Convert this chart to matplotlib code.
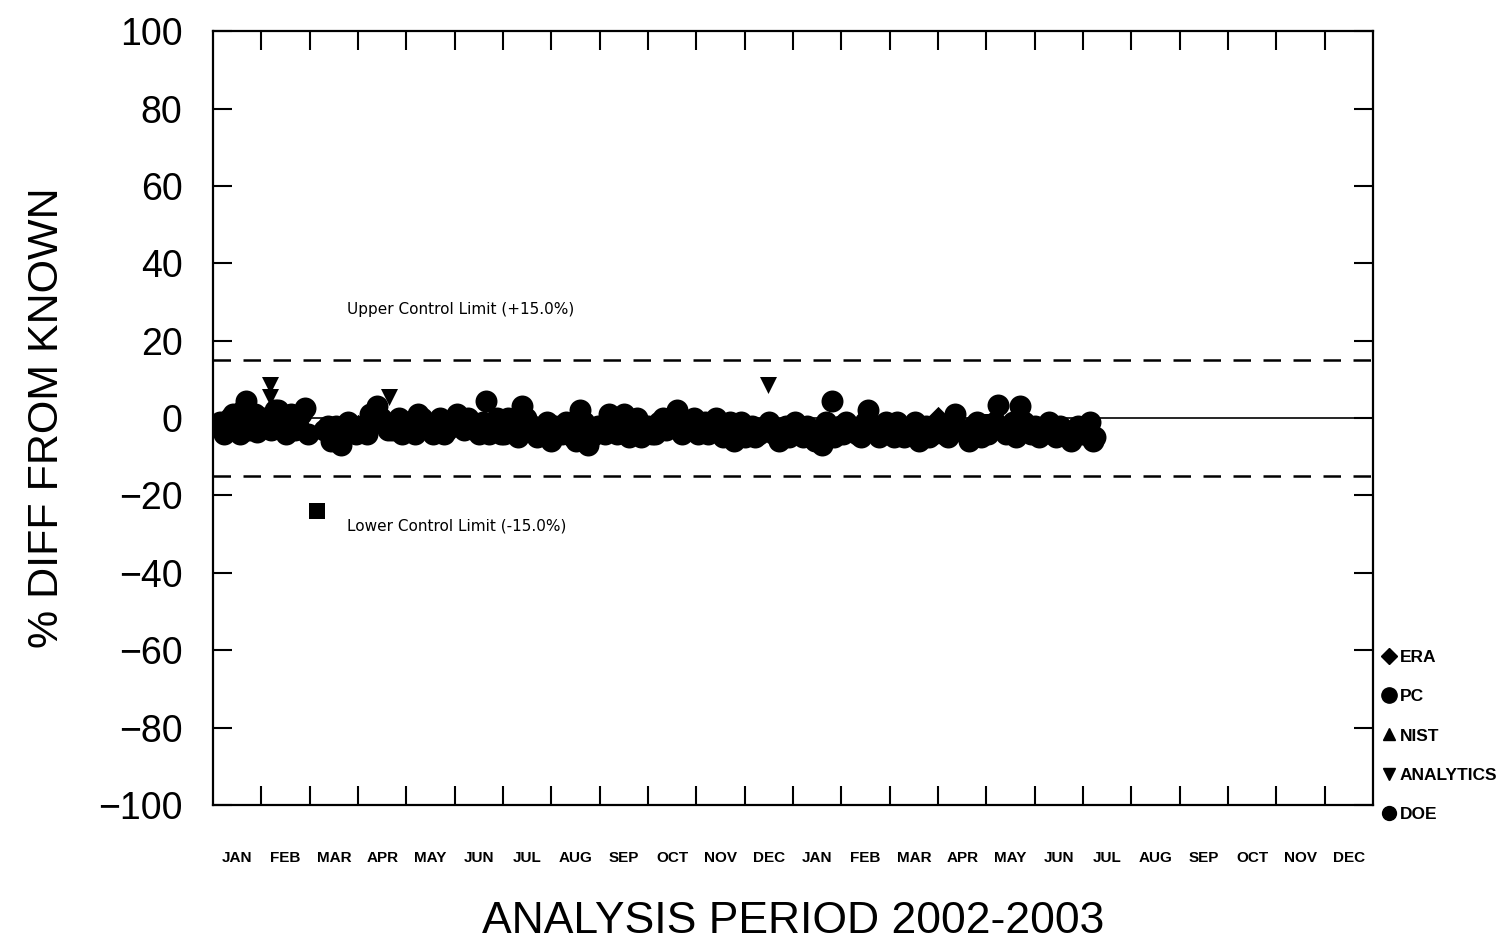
import matplotlib
matplotlib.use('Agg')
import matplotlib.pyplot as plt
from matplotlib.lines import Line2D

# months since Jan 2002 (0 = start of Jan 2002)
month_labels = ['JAN', 'FEB', 'MAR', 'APR', 'MAY', 'JUN', 'JUL', 'AUG', 'SEP', 'OCT', 'NOV', 'DEC'] * 2

pc_x = [0.15, 0.3, 0.42, 0.55, 0.68, 0.8, 0.92,
        1.05, 1.2, 1.35, 1.5, 1.62, 1.75, 1.9,
        2.3, 2.45, 2.55, 2.65, 2.8, 2.95,
        3.1, 3.25, 3.4, 3.55, 3.7, 3.85, 3.95,
        4.1, 4.25, 4.4, 4.55, 4.7, 4.85,
        5.05, 5.2, 5.35, 5.5, 5.65, 5.8, 5.95,
        6.1, 6.25, 6.4, 6.55, 6.7, 6.85,
        7.0, 7.15, 7.3, 7.45, 7.6, 7.75, 7.9,
        8.05, 8.2, 8.35, 8.5, 8.7, 8.85,
        9.0, 9.15, 9.3, 9.45, 9.6, 9.8, 9.95,
        10.1, 10.25, 10.4, 10.55, 10.7, 10.85,
        11.0, 11.15, 11.3, 11.5, 11.7, 11.85,
        12.05, 12.2, 12.35, 12.45, 12.6, 12.8, 12.9,
        13.1, 13.25, 13.4, 13.55, 13.7, 13.85,
        14.0, 14.15, 14.3, 14.45, 14.6, 14.75, 14.9,
        15.05, 15.2, 15.35, 15.5, 15.65, 15.8, 15.95,
        16.1, 16.25, 16.4, 16.55, 16.7, 16.85,
        17.0, 17.15, 17.3, 17.45, 17.6, 17.75, 17.9,
        18.05, 18.15, 18.25,
        # second pass of samples in each month
        0.22, 0.36, 0.5, 0.62, 0.75, 0.87, 0.97,
        1.12, 1.28, 1.42, 1.56, 1.7, 1.83, 1.97,
        2.38, 2.5, 2.6, 2.72, 2.88,
        3.18, 3.32, 3.47, 3.62, 3.78, 3.9,
        4.03, 4.18, 4.33, 4.48, 4.62, 4.78, 4.92,
        5.12, 5.28, 5.42, 5.58, 5.72, 5.88,
        6.02, 6.18, 6.32, 6.48, 6.62, 6.78, 6.92,
        7.08, 7.22, 7.38, 7.52, 7.68, 7.82, 7.97,
        8.12, 8.28, 8.42, 8.6, 8.78, 8.93,
        9.08, 9.22, 9.38, 9.52, 9.7, 9.88,
        10.03, 10.18, 10.32, 10.48, 10.62, 10.78, 10.93,
        11.08, 11.22, 11.4, 11.6, 11.78, 11.92,
        12.12, 12.28, 12.4, 12.52, 12.68, 12.85, 12.97,
        13.03, 13.18, 13.32, 13.48, 13.62, 13.78, 13.93,
        14.08, 14.22, 14.38, 14.52, 14.68, 14.82, 14.97,
        15.12, 15.28, 15.42, 15.58, 15.72, 15.88,
        16.03, 16.18, 16.32, 16.48, 16.62, 16.78, 16.93,
        17.08, 17.22, 17.38, 17.52, 17.68, 17.82, 17.97,
        18.1, 18.2]
pc_y = [-1, -3, 1, -4, 4.5, -2, -3.5,
        0, -3, 2, -4, 1, -2, 2.5,
        -3, -6, -2, -7, -1, -4,
        -2, 1, 3, -1, -3, 0, -2,
        -3, 1, -2, -4, 0, -3,
        1, -3, -1, -4, 4.5, -2, -4,
        0, -3, 3, -2, -5, -3,
        -6, -3, -1, -5, 2, -7, -4,
        -2, 1, -4, 1, -3, -5,
        -2, -4, 0, -1, 2, -3, 0,
        -2, -4, 0, -5, -1, -3,
        -5, -2, -4, -1, -6, -2,
        -1, -5, -3, -6, -7, 4.5, -3,
        -1, -3, -5, 2, -2, -4,
        -3, -1, -5, -3, -6, -2, -4,
        -2, -5, 1, -3, -6, -1, -4,
        -2, 3.5, -4, -1, 3, -3,
        -2, -4, -1, -5, -3, -6, -2,
        -4, -1, -5,
        -4, 0, -2, 2, -3, 1, -1,
        -1, 2, -2, 0, -3, 1, -4,
        -2, -4, -5, -3, -2,
        -4, -1, 0, -3, -1, -4,
        -1, -4, 0, -3, -2, -4, -1,
        -2, 0, -3, -1, -4, 0,
        -4, -1, -5, 0, -2, -4, -1,
        -2, -4, -3, -6, -1, -5, -2,
        -4, -1, -2, -5, 0, -2,
        -4, -1, -3, 0, -4, -2,
        -4, -1, -3, -2, -4, -6, -1,
        -3, -5, -3, -4, -4, -5,
        -4, -2, -5, -4, -1, -5, -2,
        -4, -2, -4, -1, -3, -5, -1,
        -5, -2, -4, -1, -4, -5, -2,
        -4, -1, -3, -4, -2, -5,
        -4, -1, -3, -2, -5, -1, -4,
        -5, -3, -4, -2, -5, -3, -4,
        -3, -6]

era_x = [0.5, 3.0, 6.0, 9.5, 12.0, 15.0, 17.5]
era_y = [-1, -2, -1, -2, -3, 0, -4]

nist_x = [7.3, 13.0]
nist_y = [-2, -1]

analytics_x = [1.17, 1.17, 3.64, 11.48]
analytics_y = [8.5, 5.5, 5.5, 8.5]

doe_x = [2.15, 5.5, 10.0, 16.0]
doe_y = [-24, -2, -3, -1]

big_font = ['Liberation Sans', 'DejaVu Sans']
small_font = ['Liberation Sans Narrow', 'DejaVu Sans Condensed', 'Liberation Sans', 'DejaVu Sans']

fig = plt.figure(figsize=(14.98, 9.43), dpi=100)
ax = fig.add_axes([0.1422, 0.1463, 0.7744, 0.8207])

# reference lines
ax.plot([0, 24], [0, 0], color='black', lw=1.2, zorder=1)
ax.plot([0, 24], [15, 15], color='black', lw=1.8, ls=(0, (7, 5)), zorder=1)
ax.plot([0, 24], [-15, -15], color='black', lw=1.8, ls=(0, (7, 5)), zorder=1)

ax.scatter(pc_x, pc_y, marker='o', s=250, color='black', lw=0, zorder=3)
ax.scatter(era_x, era_y, marker='D', s=140, color='black', lw=0, zorder=3)
ax.scatter(nist_x, nist_y, marker='^', s=150, color='black', lw=0, zorder=3)
ax.scatter(analytics_x, analytics_y, marker='v', s=150, color='black', lw=0, zorder=3)
ax.scatter(doe_x, doe_y, marker='s', s=120, color='black', lw=0, zorder=3)

ax.text(2.77, 28, 'Upper Control Limit (+15.0%)', fontsize=11, va='center', ha='left')
ax.text(2.77, -28, 'Lower Control Limit (-15.0%)', fontsize=11, va='center', ha='left')

ax.set_xlim(0, 24)
ax.set_ylim(-100, 100)
ax.set_yticks(range(-100, 101, 20))
ax.set_yticklabels([str(v).replace('-', '\u2212') for v in range(-100, 101, 20)],
                   fontsize=27, family=big_font)
ax.set_xticks(range(1, 24))
ax.set_xticklabels([])
ax.set_xticks([m + 0.5 for m in range(24)], minor=True)
ax.set_xticklabels(month_labels, minor=True, fontsize=11, fontweight='bold',
                   fontstretch='condensed', family=small_font)
ax.tick_params(axis='x', which='major', direction='in', length=14, width=1.5, top=True, bottom=True)
ax.tick_params(axis='x', which='minor', length=0, pad=33)
ax.tick_params(axis='y', direction='in', length=14, width=1.5, left=True, right=True, pad=22)
for s in ax.spines.values():
    s.set_linewidth(1.6)

ax.set_ylabel('% DIFF FROM KNOWN', fontsize=31, family=big_font, labelpad=22)
ax.set_xlabel('ANALYSIS PERIOD 2002-2003', fontsize=32, family=big_font, labelpad=26)

handles = [Line2D([], [], ls='none', marker='D', ms=8, color='black'),
           Line2D([], [], ls='none', marker='o', ms=11, color='black'),
           Line2D([], [], ls='none', marker='^', ms=9, color='black'),
           Line2D([], [], ls='none', marker='v', ms=9, color='black'),
           Line2D([], [], ls='none', marker='o', ms=10, color='black')]
ax.legend(handles, ['ERA', 'PC', 'NIST', 'ANALYTICS', 'DOE'], loc='upper left',
          bbox_to_anchor=(1.002, 0.21), frameon=False, handlelength=0.8,
          handletextpad=0.2, labelspacing=1.4, borderaxespad=0,
          prop={'size': 12.5, 'weight': 'bold', 'family': small_font})

fig.savefig('out.png', dpi=100)
